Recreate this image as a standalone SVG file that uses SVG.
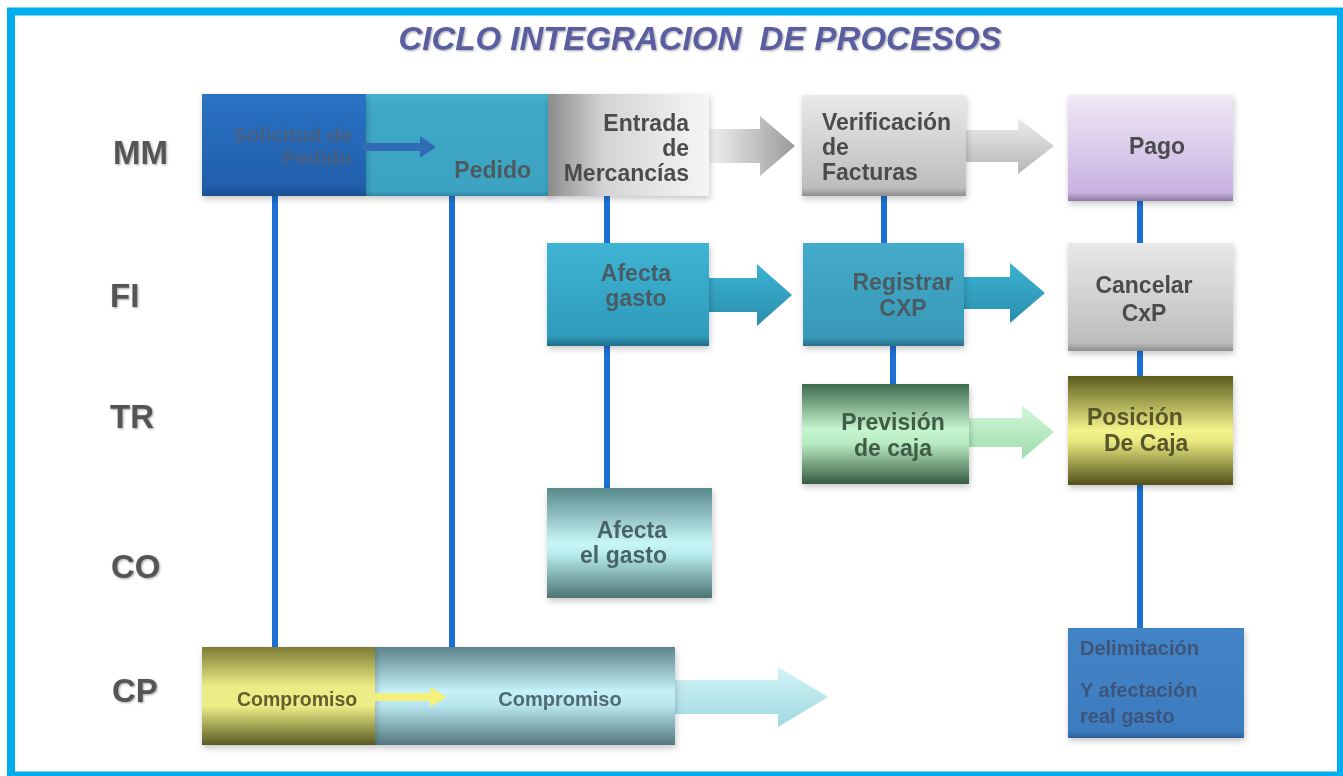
<svg xmlns="http://www.w3.org/2000/svg" width="1343" height="776" viewBox="0 0 1343 776">
<defs>
<style>
.lbl{font-family:"Liberation Sans",Arial,sans-serif;font-weight:bold;font-size:33px;fill:#555;}
.t{font-family:"Liberation Sans",Arial,sans-serif;font-weight:bold;font-size:23px;fill:#4b4b4b;}
.conn{stroke:#1c70d4;stroke-width:6;fill:none;}
.box{filter:url(#sh);}
</style>
<filter id="sh" x="-10%" y="-10%" width="125%" height="130%">
<feDropShadow dx="1" dy="3" stdDeviation="3" flood-color="#000" flood-opacity="0.22"/>
</filter>
<filter id="tsh" x="-10%" y="-20%" width="120%" height="150%">
<feDropShadow dx="1" dy="1" stdDeviation="1.2" flood-color="#000" flood-opacity="0.35"/>
</filter>
<linearGradient id="gSol" x1="0" y1="0" x2="0" y2="1"><stop offset="0" stop-color="#2b72c4"/><stop offset="0.9" stop-color="#2160ac"/><stop offset="1" stop-color="#1a4f8e"/></linearGradient>
<linearGradient id="gPed" x1="0" y1="0" x2="0" y2="1"><stop offset="0" stop-color="#45b3d2"/><stop offset="0.1" stop-color="#3fa8c6"/><stop offset="0.95" stop-color="#3ba3c1"/><stop offset="1" stop-color="#2f87a2"/></linearGradient>
<linearGradient id="gEnt" x1="0" y1="0" x2="1" y2="0"><stop offset="0" stop-color="#8c8c8c"/><stop offset="0.35" stop-color="#d4d4d4"/><stop offset="1" stop-color="#f6f6f6"/></linearGradient>
<linearGradient id="gGray" x1="0" y1="0" x2="0" y2="1"><stop offset="0" stop-color="#e9e9e9"/><stop offset="0.92" stop-color="#bdbdbd"/><stop offset="1" stop-color="#8e8e8e"/></linearGradient>
<linearGradient id="gPago" x1="0" y1="0" x2="0" y2="1"><stop offset="0" stop-color="#efe9f6"/><stop offset="0.92" stop-color="#c8b2e0"/><stop offset="1" stop-color="#8a7a9e"/></linearGradient>
<linearGradient id="gTeal" x1="0" y1="0" x2="0" y2="1"><stop offset="0" stop-color="#3fb4d4"/><stop offset="0.9" stop-color="#2f9bbb"/><stop offset="1" stop-color="#1f6f88"/></linearGradient>
<linearGradient id="gReg" x1="0" y1="0" x2="0" y2="1"><stop offset="0" stop-color="#45abca"/><stop offset="0.92" stop-color="#3898b7"/><stop offset="1" stop-color="#276f88"/></linearGradient>
<linearGradient id="gGreen" x1="0" y1="0" x2="0" y2="1"><stop offset="0" stop-color="#3d6a4c"/><stop offset="0.45" stop-color="#c6f5cf"/><stop offset="0.6" stop-color="#b8ebc2"/><stop offset="1" stop-color="#375a41"/></linearGradient>
<linearGradient id="gOlive" x1="0" y1="0" x2="0" y2="1"><stop offset="0" stop-color="#5c5c1e"/><stop offset="0.5" stop-color="#f3f38b"/><stop offset="0.6" stop-color="#e9e980"/><stop offset="1" stop-color="#50501a"/></linearGradient>
<linearGradient id="gAqua" x1="0" y1="0" x2="0" y2="1"><stop offset="0" stop-color="#588a8c"/><stop offset="0.5" stop-color="#c8f6f6"/><stop offset="0.6" stop-color="#b8ecec"/><stop offset="1" stop-color="#4b7474"/></linearGradient>
<linearGradient id="gCY" x1="0" y1="0" x2="0" y2="1"><stop offset="0" stop-color="#7c7c34"/><stop offset="0.4" stop-color="#ecec86"/><stop offset="0.6" stop-color="#eeee88"/><stop offset="1" stop-color="#5a5a22"/></linearGradient>
<linearGradient id="gCT" x1="0" y1="0" x2="0" y2="1"><stop offset="0" stop-color="#5e838c"/><stop offset="0.45" stop-color="#c5f1f8"/><stop offset="0.6" stop-color="#b8e6ee"/><stop offset="1" stop-color="#54777f"/></linearGradient>
<linearGradient id="gDel" x1="0" y1="0" x2="0" y2="1"><stop offset="0" stop-color="#4384c6"/><stop offset="0.94" stop-color="#3c7bbe"/><stop offset="1" stop-color="#2c5f98"/></linearGradient>
<linearGradient id="aGray1" x1="0" y1="0" x2="1" y2="0"><stop offset="0" stop-color="#f2f2f2"/><stop offset="1" stop-color="#9a9a9a"/></linearGradient>
<linearGradient id="aGray2" x1="0" y1="0" x2="0" y2="1"><stop offset="0" stop-color="#ececec"/><stop offset="1" stop-color="#b6b6b6"/></linearGradient>
<linearGradient id="aTeal" x1="0" y1="0" x2="0" y2="1"><stop offset="0" stop-color="#3cb2d2"/><stop offset="1" stop-color="#2a8fae"/></linearGradient>
<linearGradient id="aGreen" x1="0" y1="0" x2="0" y2="1"><stop offset="0" stop-color="#d4f8da"/><stop offset="1" stop-color="#9edcac"/></linearGradient>
<linearGradient id="aCyan" x1="0" y1="0" x2="0" y2="1"><stop offset="0" stop-color="#d2f4f6"/><stop offset="1" stop-color="#9fd8e0"/></linearGradient>
</defs>
<rect x="0" y="0" width="1343" height="776" fill="#ffffff"/>
<rect x="11" y="11.5" width="1330" height="764" fill="#ffffff" stroke="#00aeef" stroke-width="8"/>

<g id="title">
<text x="700" y="50" text-anchor="middle" xml:space="preserve" filter="url(#tsh)" style="font-family:'Liberation Sans',Arial,sans-serif;font-weight:bold;font-style:italic;font-size:33px;fill:#5a5d9f;">CICLO INTEGRACION  DE PROCESOS</text>
</g>

<g id="row-labels" filter="url(#tsh)">
<text class="lbl" x="113" y="164">MM</text>
<text class="lbl" x="110" y="307">FI</text>
<text class="lbl" x="110" y="428">TR</text>
<text class="lbl" x="111" y="578">CO</text>
<text class="lbl" x="112" y="702">CP</text>
</g>

<g id="connectors">
<line class="conn" x1="275" y1="195" x2="275" y2="648"/>
<line class="conn" x1="452" y1="195" x2="452" y2="648"/>
<line class="conn" x1="607" y1="195" x2="607" y2="244"/>
<line class="conn" x1="607" y1="345" x2="607" y2="489"/>
<line class="conn" x1="884" y1="195" x2="884" y2="244"/>
<line class="conn" x1="893" y1="345" x2="893" y2="384"/>
<line class="conn" x1="1140" y1="200" x2="1140" y2="244"/>
<line class="conn" x1="1140" y1="350" x2="1140" y2="377"/>
<line class="conn" x1="1140" y1="485" x2="1140" y2="629"/>
<polygon points="708,129 760,129 760,116 795,146 760,176 760,163 708,163" fill="url(#aGray1)"/>
<polygon points="965,130 1018,130 1018,118 1054,146 1018,174 1018,162 965,162" fill="url(#aGray2)"/>
<polygon points="709,278 757,278 757,264 792,295 757,326 757,312 709,312" fill="url(#aTeal)"/>
<polygon points="963,277 1010,277 1010,263 1045,293 1010,323 1010,309 963,309" fill="url(#aTeal)"/>
<polygon points="968,418 1022,418 1022,405 1054,432 1022,459 1022,447 968,447" fill="url(#aGreen)"/>
<polygon points="675,680 778,680 778,667 828,697 778,727 778,714 675,714" fill="url(#aCyan)"/>
</g>

<g id="node-pedido" class="box">
<rect x="366" y="94" width="186" height="102" fill="url(#gPed)"/>
<text class="t" x="531" y="178" text-anchor="end" style="fill:#4d5a60">Pedido</text>
</g>
<g id="node-solicitud" class="box">
<rect x="202" y="94" width="164" height="102" fill="url(#gSol)"/>
<text class="t" x="352" y="142" text-anchor="end" style="font-size:21px;fill:#4a5f82">Solicitud de</text>
<text class="t" x="352" y="165" text-anchor="end" style="font-size:21px;fill:#4a5f82">Pedido</text>
</g>
<g id="arrow-sol-ped">
<polygon points="362,143 420,143 420,136 436,147 420,158 420,151 362,151" fill="#2f6cb5"/>
</g>
<g id="node-entrada" class="box">
<rect x="548" y="94" width="161" height="102" fill="url(#gEnt)"/>
<text class="t" x="689" y="131" text-anchor="end">Entrada</text>
<text class="t" x="689" y="156" text-anchor="end">de</text>
<text class="t" x="689" y="181" text-anchor="end">Mercancías</text>
</g>
<g id="node-verificacion" class="box">
<rect x="802" y="95" width="164" height="101" fill="url(#gGray)"/>
<text class="t" x="822" y="130">Verificación</text>
<text class="t" x="822" y="155">de</text>
<text class="t" x="822" y="180">Facturas</text>
</g>
<g id="node-pago" class="box">
<rect x="1068" y="95" width="165" height="106" fill="url(#gPago)"/>
<text class="t" x="1157" y="154" text-anchor="middle">Pago</text>
</g>
<g id="node-afecta-gasto" class="box">
<rect x="547" y="243" width="162" height="103" fill="url(#gTeal)"/>
<text class="t" x="636" y="281" text-anchor="middle" style="fill:#4a5c64">Afecta</text>
<text class="t" x="636" y="306" text-anchor="middle" style="fill:#4a5c64">gasto</text>
</g>
<g id="node-registrar" class="box">
<rect x="803" y="243" width="161" height="103" fill="url(#gReg)"/>
<text class="t" x="903" y="290" text-anchor="middle" style="fill:#4a5c64">Registrar</text>
<text class="t" x="903" y="316" text-anchor="middle" style="fill:#4a5c64">CXP</text>
</g>
<g id="node-cancelar" class="box">
<rect x="1068" y="243" width="165" height="108" fill="url(#gGray)"/>
<text class="t" x="1144" y="293" text-anchor="middle">Cancelar</text>
<text class="t" x="1144" y="321" text-anchor="middle">CxP</text>
</g>
<g id="node-prevision" class="box">
<rect x="802" y="384" width="167" height="100" fill="url(#gGreen)"/>
<text class="t" x="893" y="430" text-anchor="middle" style="fill:#3f5c45">Previsión</text>
<text class="t" x="893" y="456" text-anchor="middle" style="fill:#3f5c45">de caja</text>
</g>
<g id="node-posicion" class="box">
<rect x="1068" y="376" width="165" height="109" fill="url(#gOlive)"/>
<text class="t" x="1087" y="425" style="fill:#56562a">Posición</text>
<text class="t" x="1104" y="451" style="fill:#56562a">De Caja</text>
</g>
<g id="node-afecta-el-gasto" class="box">
<rect x="547" y="488" width="165" height="110" fill="url(#gAqua)"/>
<text class="t" x="667" y="538" text-anchor="end" style="fill:#4a6468">Afecta</text>
<text class="t" x="667" y="563" text-anchor="end" style="fill:#4a6468">el gasto</text>
</g>
<g id="node-compromiso-cp" class="box">
<rect x="375" y="647" width="300" height="98" fill="url(#gCT)"/>
<text class="t" x="560" y="706" text-anchor="middle" style="font-size:20px;fill:#4f6a70">Compromiso</text>
</g>
<g id="node-compromiso" class="box">
<rect x="202" y="647" width="173" height="98" fill="url(#gCY)"/>
<text class="t" x="237" y="706" style="font-size:19.5px;fill:#5e5e30">Compromiso</text>
</g>
<g id="arrow-comp">
<polygon points="375,693 430,693 430,687 447,697 430,707 430,701 375,701" fill="#f4f07a"/>
</g>
<g id="node-delimitacion" class="box">
<rect x="1068" y="628" width="176" height="110" fill="url(#gDel)"/>
<text class="t" x="1080" y="655" style="font-size:20px;fill:#3d557a">Delimitación</text>
<text class="t" x="1080" y="697" style="font-size:20px;fill:#3d557a">Y afectación</text>
<text class="t" x="1080" y="723" style="font-size:20px;fill:#3d557a">real gasto</text>
</g>
</svg>
